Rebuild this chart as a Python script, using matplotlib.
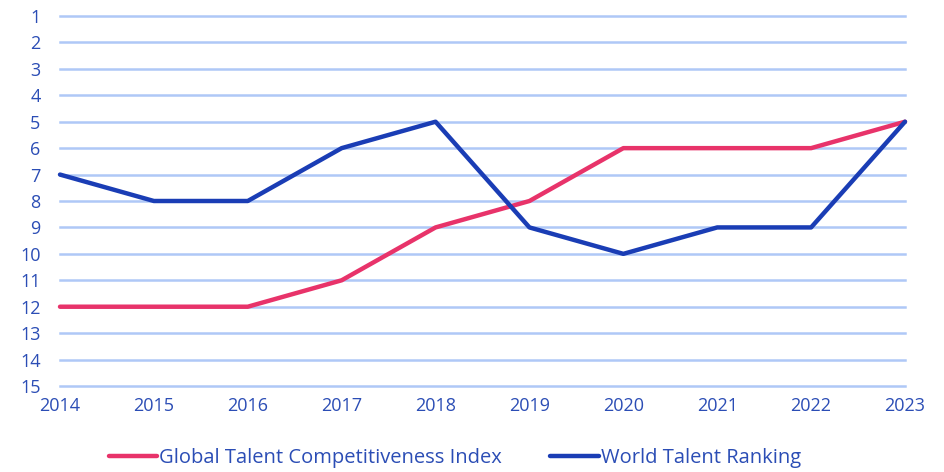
import matplotlib
matplotlib.use("Agg")
import matplotlib.pyplot as plt

years = [2014, 2015, 2016, 2017, 2018, 2019, 2020, 2021, 2022, 2023]
gtci = [12, 12, 12, 11, 9, 8, 6, 6, 6, 5]   # Global Talent Competitiveness Index
wtr = [7, 8, 8, 6, 5, 9, 10, 9, 9, 5]       # World Talent Ranking
ranks = list(range(1, 16))

PINK = "#E8336A"
BLUE = "#1A3DB5"
GRID = "#AFC8F7"
TXT = "#2B4DB5"

plt.rcParams["font.family"] = ["Open Sans", "DejaVu Sans"]

fig = plt.figure(figsize=(9.44, 4.72), dpi=100)
ax = fig.add_axes([60 / 944, 1 - 386 / 472, 845 / 944, 370 / 472])

for r in ranks:
    ax.axhline(r, color=GRID, lw=1.8, zorder=1, clip_on=False)

ax.plot(years, gtci, color=PINK, lw=3.2, solid_capstyle="round",
        label="Global Talent Competitiveness Index", zorder=3, clip_on=False)
ax.plot(years, wtr, color=BLUE, lw=3.2, solid_capstyle="round",
        label="World Talent Ranking", zorder=3, clip_on=False)

ax.set_xlim(2014, 2023)
ax.set_ylim(15, 1)
ax.set_xticks(years)
ax.set_yticks(ranks)
ax.tick_params(length=0, labelsize=13, labelcolor=TXT)
ax.tick_params(axis="y", pad=14)
ax.tick_params(axis="x", pad=8)
for s in ax.spines.values():
    s.set_visible(False)

fig.legend(loc="center", bbox_to_anchor=(0.482, 1 - 458 / 472), ncol=2, frameon=False,
           fontsize=14.5, labelcolor=TXT, handlelength=2.4, handletextpad=0.1,
           columnspacing=2.4)

fig.savefig("out.png", dpi=100)
